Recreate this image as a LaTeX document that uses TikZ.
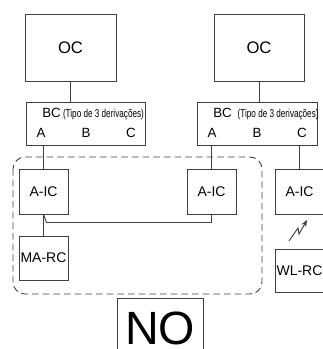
\documentclass[tikz,border=0pt]{standalone}
\usepackage{fontspec}
\setmainfont{Liberation Sans}
\usepackage{graphicx}
\usetikzlibrary{arrows.meta,positioning,calc}
\definecolor{linegrey}{RGB}{64,64,64}

\newcommand{\tipo}{\scalebox{0.72}[1]{\fontsize{8.5}{9}\selectfont(Tipo de 3 derivações)}}

\begin{document}
\begin{tikzpicture}[x=0.75pt, y=-0.75pt,
    box/.style={rectangle, draw=linegrey, line width=0.7pt, inner sep=0pt},
    unit/.style={box, minimum width=36.75pt, minimum height=33.75pt, font=\fontsize{10.5}{12}\selectfont},
    tap/.style={inner sep=0pt, font=\fontsize{10}{12}\selectfont},
    wire/.style={draw=linegrey, line width=0.7pt},
    zone/.style={draw=linegrey, line width=0.7pt, dash pattern=on 5pt off 3pt, rounded corners=9pt}]
    \useasboundingbox (0,0) rectangle (323,349);
    \clip (0,0) rectangle (323,349);

    % outdoor units and branch controllers
    \node[box, minimum width=68.25pt, minimum height=50.25pt, font=\fontsize{12.5}{14}\selectfont] (ocL) at (70.5,47.5) {OC};
    \node[box, minimum width=67.5pt, minimum height=50.25pt, font=\fontsize{12.5}{14}\selectfont] (ocR) at (259,47.5) {OC};
    \node[box, minimum width=89.25pt, minimum height=32.25pt] (bcL) at (85.5,123.5) {};
    \node[box, minimum width=90pt, minimum height=32.25pt] (bcR) at (257,123.5) {};

    \node[tap, anchor=west] (bcLt) at (42,114) {BC\,\tipo};
    \node[tap, anchor=west] (bcRt) at (213,114) {BC\;\,\tipo};
    \node[tap] (bcLA) at (41,133) {A};
    \node[tap] (bcLB) at (86,133) {B};
    \node[tap] (bcLC) at (131,133) {C};
    \node[tap] (bcRA) at (212,133) {A};
    \node[tap] (bcRB) at (257,133) {B};
    \node[tap] (bcRC) at (302,133) {C};

    % indoor side
    \draw[zone] (13,157) rectangle (262,294);
    \node[unit] (aicL) at (43.5,191.5) {A-IC};
    \node[unit] (aicM) at (211.5,191.5) {A-IC};
    \node[unit] (aicR) at (299.5,191.5) {A-IC};
    \node[unit, minimum height=33pt] (marc) at (43.5,258) {MA-RC};
    \node[unit, minimum height=32.25pt] (wlrc) at (299.5,270.5) {WL-RC};
    \node[box, minimum width=64.5pt, minimum height=45pt, font=\fontsize{35}{40}\selectfont] (no) at (160,328) {NO};

    \draw[wire] (ocL.south) -- (ocL.south |- bcL.north);
    \draw[wire] (ocR.south) -- (ocR.south |- bcR.north);
    \draw[wire] (aicL.north |- bcL.south) -- (aicL.north);
    \draw[wire] (aicM.north |- bcR.south) -- (aicM.north);
    \draw[wire] (aicR.north |- bcR.south) -- (aicR.north);
    \draw[wire] (aicL.south) -- (marc.north);
    \draw[wire] (aicL.south) -- ++(3,8) -| (aicM.south);

    % wireless link
    \coordinate (wl) at (289,241);
    \draw[wire, -{Stealth[length=5pt,width=4pt]}] (wl) -- ++(9,-13) -- ++(1,6) -- ++(8,-14);
\end{tikzpicture}
\end{document}
